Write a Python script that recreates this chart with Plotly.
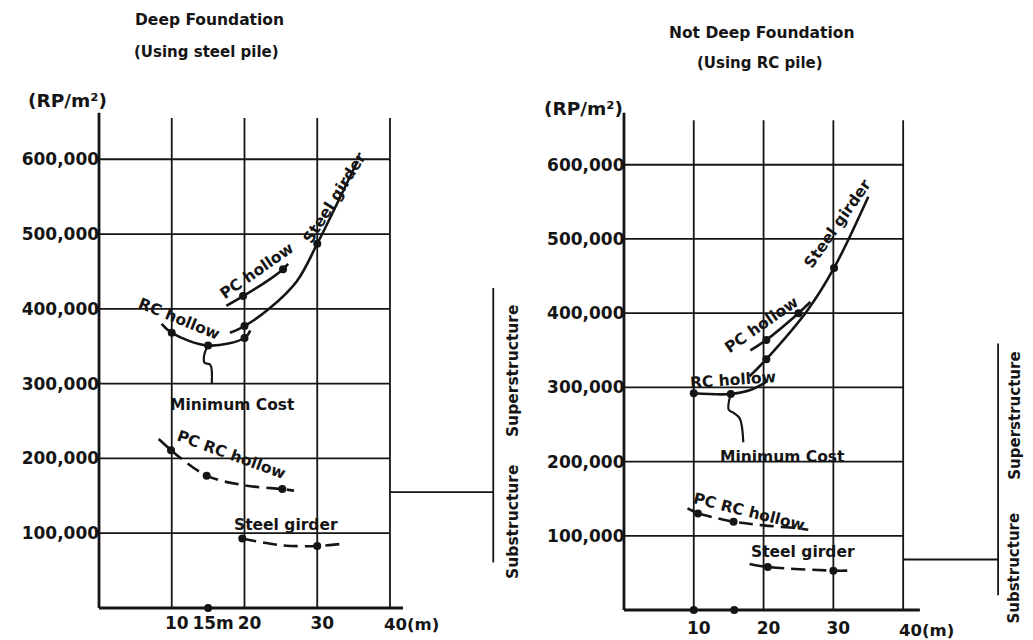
import plotly.graph_objects as go

FONT = "DejaVu Sans"
INK = "#151515"

# ---------------- shared axis data ----------------
x_grid = [10, 20, 30, 40]
y_grid = [100000, 200000, 300000, 400000, 500000, 600000]
y_ticktext = ["100,000", "200,000", "300,000", "400,000", "500,000", "600,000"]
left_xticks = [10, 15, 20, 30]
left_xticktext = ["10", "15m", "20", "30"]
right_xticks = [10, 20, 30]
right_xticktext = ["10", "20", "30"]
x_end_value = 40
x_end_label = "40(m)"
unit_label = "(RP/m²)"

# ---------------- left panel: Deep Foundation (steel pile) ----------------
L_steel_x = [18.0, 20.0, 23.5, 27.2, 30.0, 35.5]
L_steel_y = [368000, 377000, 401000, 437000, 487000, 597000]
L_steel_dot_x = [20.0, 30.0]
L_steel_dot_y = [377000, 487000]

L_pc_x = [17.5, 19.8, 23.1, 25.3, 26.0]
L_pc_y = [404000, 417000, 437000, 453000, 460000]
L_pc_dot_x = [19.8, 25.3]
L_pc_dot_y = [417000, 453000]

L_rc_x = [8.6, 10.0, 15.0, 20.0, 20.8]
L_rc_y = [380000, 368000, 351000, 361000, 371000]
L_rc_dot_x = [10.0, 15.0, 20.0]
L_rc_dot_y = [368000, 351000, 361000]

L_min_x = [15.0, 14.5, 14.5, 15.3, 15.5]
L_min_y = [351000, 340000, 328000, 325000, 300000]

L_pcrc_solid_x = [8.2, 9.9]
L_pcrc_solid_y = [226000, 211000]
L_pcrc_x = [9.9, 14.8, 20.0, 25.2, 26.8]
L_pcrc_y = [211000, 177000, 164000, 159000, 157000]
L_pcrc_dot_x = [9.9, 14.8, 25.2]
L_pcrc_dot_y = [211000, 177000, 159000]

L_sgd_x = [19.7, 25.0, 30.0, 33.5]
L_sgd_y = [93000, 84000, 83000, 86000]
L_sgd_dot_x = [19.7, 30.0]
L_sgd_dot_y = [93000, 83000]

L_axis_dot_x = [15.0]
L_axis_dot_y = [0]

# bracket (Superstructure / Substructure)
L_br_x = 54.2
L_br_y = [428000, 61000]
L_br_join_y = 155000
L_sup_y = 318000
L_sub_y = 115000

# ---------------- right panel: Not Deep Foundation (RC pile) ----------------
R_steel_x = [18.0, 20.4, 26.3, 30.1, 35.0]
R_steel_y = [315000, 338000, 404000, 461000, 557000]
R_steel_dot_x = [20.4, 30.1]
R_steel_dot_y = [338000, 461000]

R_pc_x = [18.1, 20.4, 25.0, 26.7]
R_pc_y = [350000, 364000, 400000, 415000]
R_pc_dot_x = [20.4, 25.0]
R_pc_dot_y = [364000, 400000]

R_rc_x = [10.0, 15.3, 18.0, 20.5]
R_rc_y = [292000, 291000, 296000, 308000]
R_rc_dot_x = [10.0, 15.3]
R_rc_dot_y = [292000, 291000]

R_min_x = [15.3, 15.0, 15.8, 16.6, 17.1]
R_min_y = [291000, 270000, 265000, 258000, 226000]

R_pcrc_solid_x = [9.1, 10.6]
R_pcrc_solid_y = [137000, 130000]
R_pcrc_x = [10.6, 15.7, 20.0, 25.0, 26.4]
R_pcrc_y = [130000, 119000, 114000, 110000, 108000]
R_pcrc_dot_x = [10.6, 15.7]
R_pcrc_dot_y = [130000, 119000]

R_sgd_x = [18.0, 20.6, 30.0, 32.0]
R_sgd_y = [62000, 58000, 53000, 53000]
R_sgd_dot_x = [20.6, 30.0]
R_sgd_dot_y = [58000, 53000]

R_axis_dot_x = [10.0, 15.8]
R_axis_dot_y = [0, 0]

R_br_x = 53.6
R_br_y = [359000, 20000]
R_br_join_y = 68000
R_sup_y = 262000
R_sub_y = 56000

fig = go.Figure()


def line(x, y, xa, ya, dash="solid", width=2.6):
    fig.add_trace(go.Scatter(x=x, y=y, xaxis=xa, yaxis=ya, mode="lines",
                             line=dict(color=INK, width=width, dash=dash,
                                       shape="spline", smoothing=1.0),
                             hoverinfo="skip", showlegend=False))


def dots(x, y, xa, ya, size=8):
    fig.add_trace(go.Scatter(x=x, y=y, xaxis=xa, yaxis=ya, mode="markers",
                             marker=dict(color=INK, size=size),
                             cliponaxis=False,
                             hoverinfo="skip", showlegend=False))


DASH = "14px,7px"

# left curves
line(L_steel_x, L_steel_y, "x", "y")
dots(L_steel_dot_x, L_steel_dot_y, "x", "y")
line(L_pc_x, L_pc_y, "x", "y")
dots(L_pc_dot_x, L_pc_dot_y, "x", "y")
line(L_rc_x, L_rc_y, "x", "y")
dots(L_rc_dot_x, L_rc_dot_y, "x", "y")
line(L_min_x, L_min_y, "x", "y", width=2.2)
line(L_pcrc_solid_x, L_pcrc_solid_y, "x", "y")
line(L_pcrc_x, L_pcrc_y, "x", "y", dash=DASH)
dots(L_pcrc_dot_x, L_pcrc_dot_y, "x", "y")
line(L_sgd_x, L_sgd_y, "x", "y", dash=DASH)
dots(L_sgd_dot_x, L_sgd_dot_y, "x", "y")
dots(L_axis_dot_x, L_axis_dot_y, "x", "y")

# right curves
line(R_steel_x, R_steel_y, "x2", "y2")
dots(R_steel_dot_x, R_steel_dot_y, "x2", "y2")
line(R_pc_x, R_pc_y, "x2", "y2")
dots(R_pc_dot_x, R_pc_dot_y, "x2", "y2")
line(R_rc_x, R_rc_y, "x2", "y2")
dots(R_rc_dot_x, R_rc_dot_y, "x2", "y2")
line(R_min_x, R_min_y, "x2", "y2", width=2.2)
line(R_pcrc_solid_x, R_pcrc_solid_y, "x2", "y2")
line(R_pcrc_x, R_pcrc_y, "x2", "y2", dash=DASH)
dots(R_pcrc_dot_x, R_pcrc_dot_y, "x2", "y2")
line(R_sgd_x, R_sgd_y, "x2", "y2", dash=DASH)
dots(R_sgd_dot_x, R_sgd_dot_y, "x2", "y2")
dots(R_axis_dot_x, R_axis_dot_y, "x2", "y2")

# ---------------- grid / axes as shapes ----------------
shapes = []


def seg(xr, yr, x0, y0, x1, y1, w):
    shapes.append(dict(type="line", xref=xr, yref=yr, x0=x0, y0=y0, x1=x1, y1=y1,
                       line=dict(color=INK, width=w), layer="below"))


for xr, yr, vtop, atop, aright, brx, bry, bjoin in [
    ("x", "y", 655000, 662000, 41.8, L_br_x, L_br_y, L_br_join_y),
    ("x2", "y2", 660000, 670000, 42.4, R_br_x, R_br_y, R_br_join_y),
]:
    for gx in x_grid:
        seg(xr, yr, gx, 0, gx, vtop, 1.8)
    for gy in y_grid:
        seg(xr, yr, 0, gy, x_grid[-1], gy, 1.8)
    seg(xr, yr, 0, 0, 0, atop, 2.8)
    seg(xr, yr, 0, 0, aright, 0, 2.8)
    seg(xr, yr, brx, bry[0], brx, bry[1], 1.8)
    seg(xr, yr, x_grid[-1], bjoin, brx, bjoin, 1.8)

# ---------------- page geometry (page has an 8px body margin) ----------------
W, H = 1033, 640
OFF = 8


def fx(px):
    return (px - OFF) / W


def fy(py):
    return 1 - (py - OFF) / H


# ---------------- annotations ----------------
ann = []


def text(t, x, y, xr="paper", yr="paper", size=15.5, angle=0, xanchor="center",
         yanchor="middle", xshift=0, yshift=0):
    ann.append(dict(text=t, x=x, y=y, xref=xr, yref=yr, showarrow=False,
                    textangle=angle, xanchor=xanchor, yanchor=yanchor,
                    xshift=xshift, yshift=yshift,
                    font=dict(family=FONT, size=size, color=INK)))


# titles
text("<b>Deep Foundation</b>", fx(209), fy(20), size=15.5)
text("<b>(Using steel pile)</b>", fx(206), fy(52), size=15)
text("<b>Not Deep Foundation</b>", fx(761), fy(33), size=15.5)
text("<b>(Using RC pile)</b>", fx(760), fy(63), size=15)
text("<b>" + unit_label + "</b>", fx(67), fy(100), size=18.5)
text("<b>" + unit_label + "</b>", fx(583), fy(108), size=18.5)

# curve labels, left
text("<b>PC hollow</b>", 21.7, 451000, "x", "y", angle=-35)
text("<b>Steel girder</b>", 32.4, 548000, "x", "y", angle=-58)
text("<b>RC hollow</b>", 11.0, 386000, "x", "y", angle=22)
text("<b>Minimum Cost</b>", 18.4, 272000, "x", "y")
text("<b>PC RC hollow</b>", 18.2, 204000, "x", "y", angle=20)
text("<b>Steel girder</b>", 25.7, 111000, "x", "y")
text("<b>Superstructure</b>", 56.9, L_sup_y, "x", "y", angle=-90)
text("<b>Substructure</b>", 56.9, L_sub_y, "x", "y", angle=-90)
text("<b>" + x_end_label + "</b>", x_end_value, 0, "x", "y", size=16.5,
     xanchor="left", yanchor="top", xshift=-8, yshift=-5)

# curve labels, right
text("<b>Steel girder</b>", 30.6, 520000, "x2", "y2", angle=-55)
text("<b>PC hollow</b>", 19.7, 384000, "x2", "y2", angle=-35)
text("<b>RC hollow</b>", 15.6, 310000, "x2", "y2", angle=-4)
text("<b>Minimum Cost</b>", 22.7, 206000, "x2", "y2")
text("<b>PC RC hollow</b>", 17.9, 132000, "x2", "y2", angle=14)
text("<b>Steel girder</b>", 25.6, 78000, "x2", "y2")
text("<b>Superstructure</b>", 55.9, R_sup_y, "x2", "y2", angle=-90, size=15)
text("<b>Substructure</b>", 55.9, R_sub_y, "x2", "y2", angle=-90, size=15)
text("<b>" + x_end_label + "</b>", x_end_value, 0, "x2", "y2", size=16.5,
     xanchor="left", yanchor="top", xshift=-6, yshift=-9)

tickfont = dict(family=FONT, size=17, color=INK)


def xax(domain, ticks, ticktext, anchor, shift, standoff):
    return dict(domain=domain, range=[-1.5, 58], anchor=anchor, showgrid=False,
                zeroline=False, showline=False, ticks="", tickvals=ticks,
                ticktext=["<b>%s</b>" % t for t in ticktext], tickfont=tickfont,
                ticklabelshift=shift, ticklabelstandoff=standoff, fixedrange=True)


def yax(domain, anchor, standoff):
    return dict(domain=domain, range=[-10000, 680000], anchor=anchor, showgrid=False,
                zeroline=False, showline=False, ticks="", tickvals=y_grid,
                ticktext=["<b>%s</b>" % t for t in y_ticktext], tickfont=tickfont,
                ticklabelstandoff=standoff, fixedrange=True)


fig.update_layout(
    width=W, height=H, autosize=False,
    margin=dict(l=0, r=0, t=0, b=0, pad=0),
    paper_bgcolor="white", plot_bgcolor="white",
    xaxis=xax([fx(88.1), fx(520.9)], left_xticks, left_xticktext, "y", 5, -5),
    yaxis=yax([fy(615.5), fy(99.4)], "x", -12),
    xaxis2=xax([fx(613.5), fx(1028.8)], right_xticks, right_xticktext, "y2", 5, -1),
    yaxis2=yax([fy(617.4), fy(105.4)], "x2", -12),
    shapes=shapes,
    annotations=ann,
    showlegend=False,
)

fig.write_html("out.html")
